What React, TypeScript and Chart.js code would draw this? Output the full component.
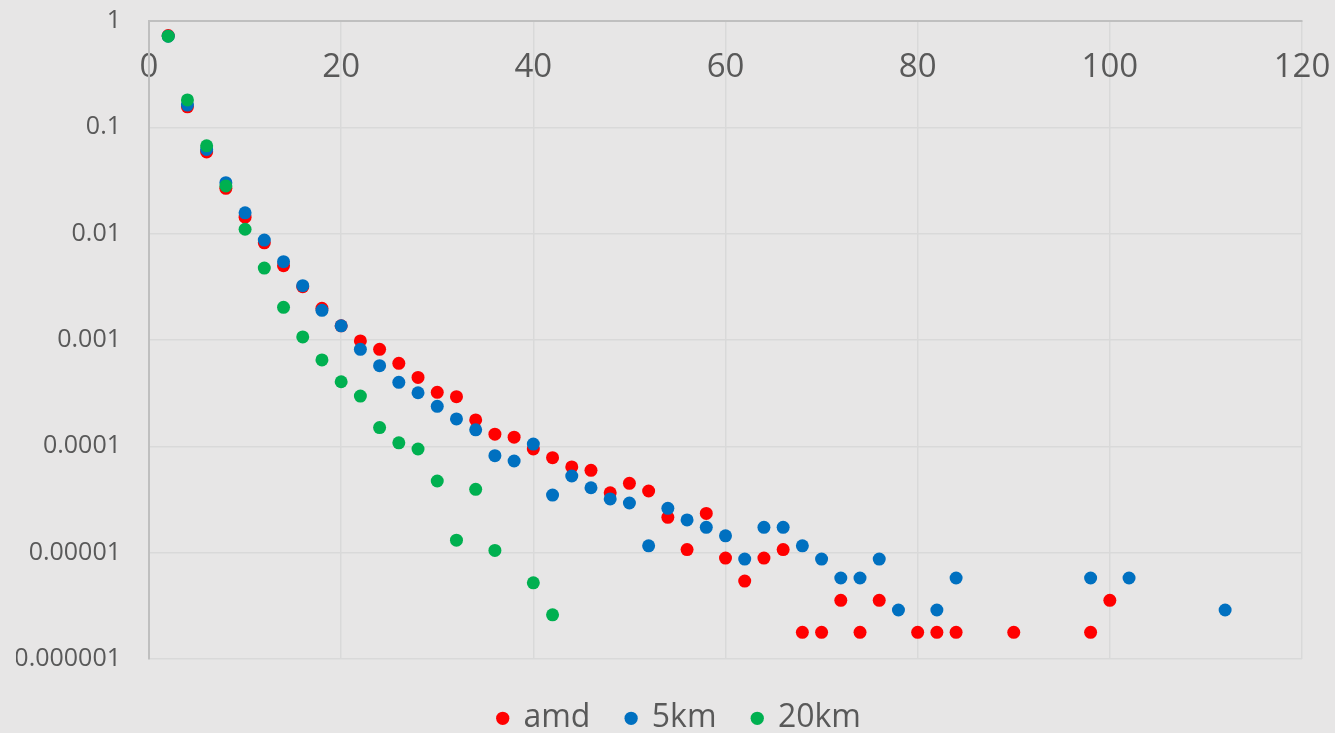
import React, { useEffect, useRef } from "react";
import { Chart, registerables } from "chart.js";

Chart.register(...registerables);

const BG = "#E7E6E6";
const TEXT = "#595959";
const FONT = "'Open Sans', 'Noto Sans', sans-serif";

const amdX = [2, 4, 6, 8, 10, 12, 14, 16, 18, 20, 22, 24, 26, 28, 30, 32, 34, 36, 38, 40, 42, 44, 46, 48, 50, 52, 54, 56, 58, 60, 62, 64, 66, 68, 70, 72, 74, 76, 80, 82, 84, 90, 98, 100];
const amdY = [0.73, 0.156, 0.0586, 0.0267, 0.0143, 0.0082, 0.005, 0.00317, 0.00199, 0.00136, 0.00098, 0.000817, 0.000603, 0.000445, 0.000322, 0.000293, 0.000177, 0.00013, 0.000122, 0.0000944, 0.0000782, 0.000064, 0.0000595, 0.0000366, 0.0000449, 0.000038, 0.0000215, 0.0000107, 0.0000234, 0.0000089, 0.0000054, 0.0000089, 0.0000107, 0.00000178, 0.00000178, 0.00000356, 0.00000178, 0.00000356, 0.00000178, 0.00000178, 0.00000178, 0.00000178, 0.00000178, 0.00000356];

const km5X = [2, 4, 6, 8, 10, 12, 14, 16, 18, 20, 22, 24, 26, 28, 30, 32, 34, 36, 38, 40, 42, 44, 46, 48, 50, 52, 54, 56, 58, 60, 62, 64, 66, 68, 70, 72, 74, 76, 78, 82, 84, 98, 102, 112];
const km5Y = [0.72, 0.162, 0.062, 0.0302, 0.0157, 0.0087, 0.00545, 0.00324, 0.0019, 0.00136, 0.000817, 0.000573, 0.0004, 0.000319, 0.000238, 0.000181, 0.000143, 0.0000817, 0.0000728, 0.000105, 0.0000348, 0.0000526, 0.0000408, 0.000032, 0.0000293, 0.0000116, 0.0000261, 0.0000203, 0.0000173, 0.0000144, 0.0000087, 0.0000173, 0.0000173, 0.0000116, 0.0000087, 0.00000578, 0.00000578, 0.0000087, 0.00000289, 0.00000289, 0.00000578, 0.00000578, 0.00000578, 0.00000289];

const km20X = [2, 4, 6, 8, 10, 12, 14, 16, 18, 20, 22, 24, 26, 28, 30, 32, 34, 36, 40, 42];
const km20Y = [0.72, 0.181, 0.067, 0.0281, 0.011, 0.00475, 0.00203, 0.00107, 0.00065, 0.000405, 0.000297, 0.00015, 0.000108, 0.0000944, 0.0000472, 0.0000131, 0.0000394, 0.0000105, 0.0000052, 0.0000026];

const seriesNames = ["amd", "5km", "20km"];
const seriesColors = ["#FF0000", "#0070C0", "#00B050"];

const xTicks = [0, 20, 40, 60, 80, 100, 120];
const xTickLabels = ["0", "20", "40", "60", "80", "100", "120"];
const yTicks = [1, 0.1, 0.01, 0.001, 0.0001, 0.00001, 0.000001];
const yTickLabels = ["1", "0.1", "0.01", "0.001", "0.0001", "0.00001", "0.000001"];

const toPoints = (xs: number[], ys: number[]) => xs.map((x, i) => ({ x, y: ys[i] }));

// shifts the bottom legend box so its items centre where the reference has them
const legendShift = {
  id: "legendShift",
  afterLayout(chart: any) {
    const lg = chart.legend;
    if (lg) {
      lg.left = 57;
      lg.right = 1302;
      lg.width = lg.right - lg.left;
    }
  },
};

export default function App() {
  const ref = useRef<HTMLCanvasElement>(null);

  useEffect(() => {
    document.body.style.margin = "0";
    document.body.style.background = BG;
    const seriesData = [toPoints(amdX, amdY), toPoints(km5X, km5Y), toPoints(km20X, km20Y)];
    const chart = new Chart(ref.current!, {
      type: "scatter",
      data: {
        datasets: seriesNames.map((name, i) => ({
          label: name,
          data: seriesData[i],
          backgroundColor: seriesColors[i],
          borderColor: seriesColors[i],
          borderWidth: 0,
          pointRadius: 6.5,
          pointHoverRadius: 6.5,
          pointStyle: "circle",
          order: 2 - i,
        })),
      },
      plugins: [legendShift],
      options: {
        responsive: false,
        animation: false,
        events: [],
        layout: { padding: { left: 16, right: 33, top: 21, bottom: 0 } },
        scales: {
          x: {
            type: "linear",
            position: { y: 1 } as any,
            min: 0,
            max: 120,
            afterBuildTicks: (scale: any) => {
              scale.ticks = xTicks.map((v) => ({ value: v }));
            },
            afterFit: (scale: any) => {
              scale.paddingLeft = 0;
              scale.paddingRight = 0;
            },
            ticks: {
              padding: 27,
              color: TEXT,
              font: { family: FONT, size: 33 },
              maxRotation: 0,
              autoSkip: false,
              callback: (v: any) => xTickLabels[xTicks.indexOf(Number(v))] ?? "",
            },
            grid: { color: "#D9D9D9", lineWidth: 1.5, drawTicks: false },
            border: { color: "#BFBFBF", width: 2 },
          },
          y: {
            type: "logarithmic",
            position: "left",
            min: 0.000001,
            max: 1,
            afterBuildTicks: (scale: any) => {
              scale.ticks = yTicks.map((v) => ({ value: v }));
            },
            afterFit: (scale: any) => {
              scale.width = 133;
              scale.paddingTop = 0;
              scale.paddingBottom = 0;
            },
            ticks: {
              padding: 28,
              color: TEXT,
              font: { family: FONT, size: 25 },
              autoSkip: false,
              callback: (v: any) => {
                const idx = yTicks.findIndex((t) => Math.abs(Math.log10(t) - Math.log10(Number(v))) < 1e-6);
                return idx >= 0 ? yTickLabels[idx] : "";
              },
            },
            grid: { color: "#D9D9D9", lineWidth: 1.5, drawTicks: false },
            border: { color: "#BFBFBF", width: 2 },
          },
        },
        plugins: {
          tooltip: { enabled: false },
          legend: {
            position: "bottom",
            maxHeight: 74,
            title: { display: true, text: "", padding: 0, font: { size: 7.3, lineHeight: 1 } },
            labels: {
              usePointStyle: true,
              pointStyle: "circle",
              boxWidth: 9.4,
              boxHeight: 9.4,
              padding: 36,
              color: TEXT,
              font: { family: FONT, size: 32 },
              sort: (a: any, b: any) => a.datasetIndex - b.datasetIndex,
            },
          },
        },
      } as any,
    });
    return () => chart.destroy();
  }, []);

  return (
    <div style={{ position: "fixed", left: 0, top: 0, width: 1335, height: 733, background: BG }}>
      <canvas ref={ref} width={1335} height={733} style={{ display: "block" }} />
    </div>
  );
}
